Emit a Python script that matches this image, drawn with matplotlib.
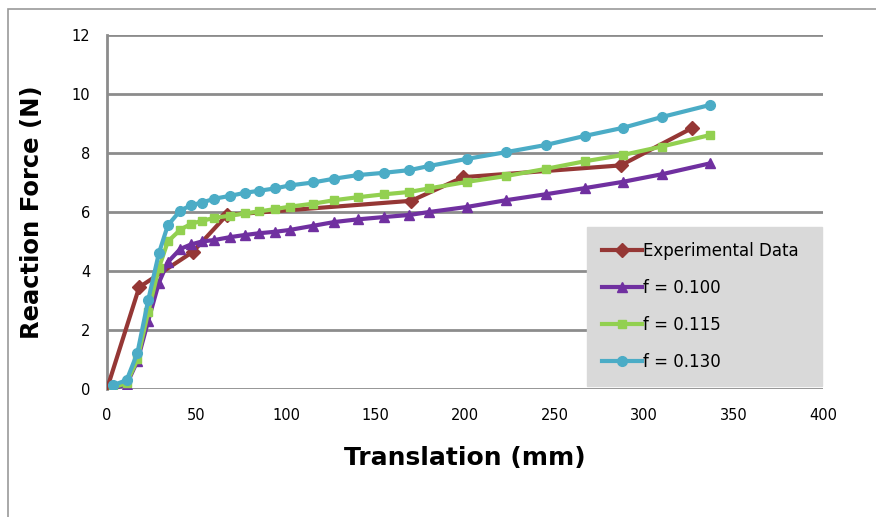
import matplotlib.pyplot as plt
from matplotlib.patches import Rectangle

# measured curve
exp_x = [0, 18, 48, 67, 170, 199, 287, 327]
exp_y = [0, 3.45, 4.65, 5.9, 6.38, 7.18, 7.58, 8.85]

# simulated curves share the same translation steps
sim_x = [3.5, 11, 17, 23, 29, 34, 41, 47, 53, 60, 69, 77, 85, 94, 102,
         115, 127, 140, 155, 169, 180, 201, 223, 245, 267, 288, 310, 337]
f100 = [0.02, 0.15, 0.95, 2.3, 3.6, 4.3, 4.75, 4.9, 5.0, 5.05, 5.15, 5.22,
        5.28, 5.33, 5.39, 5.53, 5.66, 5.75, 5.83, 5.9, 6.0, 6.17, 6.4,
        6.6, 6.81, 7.02, 7.28, 7.65]
f115 = [0.05, 0.2, 1.0, 2.6, 4.1, 5.0, 5.4, 5.6, 5.7, 5.8, 5.88, 5.95,
        6.02, 6.1, 6.18, 6.28, 6.4, 6.5, 6.6, 6.68, 6.8, 7.02, 7.22,
        7.46, 7.72, 7.93, 8.22, 8.61]
f130 = [0.13, 0.3, 1.22, 3.0, 4.6, 5.55, 6.05, 6.23, 6.32, 6.45, 6.55,
        6.65, 6.72, 6.8, 6.9, 7.0, 7.13, 7.25, 7.33, 7.42, 7.56, 7.8,
        8.03, 8.27, 8.58, 8.85, 9.22, 9.63]

xticks = [0, 50, 100, 150, 200, 250, 300, 350, 400]
yticks = [0, 2, 4, 6, 8, 10, 12]

fig = plt.figure(figsize=(8.76, 5.17), dpi=100)
ax = fig.add_axes([0.1221, 0.2476, 0.8174, 0.6847])

# chart area border (top and left edges)
fig.patches.append(Rectangle((0.009, -0.05), 1.2, 1.033, transform=fig.transFigure,
                             fill=False, edgecolor='#999999', linewidth=1.2))

ax.plot(exp_x, exp_y, color='#953735', lw=3, marker='D', ms=7,
        label='Experimental Data', zorder=3)
ax.plot(sim_x, f100, color='#7030a0', lw=3, marker='^', ms=7,
        label='f = 0.100', zorder=3)
ax.plot(sim_x, f115, color='#92d050', lw=3, marker='s', ms=6,
        label='f = 0.115', zorder=3)
ax.plot(sim_x, f130, color='#4bacc6', lw=3, marker='o', ms=7,
        label='f = 0.130', zorder=3)

ax.set_xlim(0, 400)
ax.set_ylim(0, 12)
ax.set_xticks(xticks)
ax.set_yticks(yticks)
ax.tick_params(length=0, labelsize=10.5, pad=14)
ax.tick_params(axis='y', pad=12)
ax.grid(axis='y', color='#8c8c8c', linewidth=2)
ax.set_axisbelow(True)
for s in ['top', 'right', 'bottom']:
    ax.spines[s].set_visible(False)
ax.spines['left'].set_color('#8c8c8c')
ax.spines['left'].set_linewidth(2)

ax.set_ylabel('Reaction Force (N)', fontsize=17.5, fontweight='bold',
              family='DejaVu Sans', labelpad=20)
ax.set_xlabel('Translation (mm)', fontsize=18, fontweight='bold',
              family='DejaVu Sans', labelpad=16)

leg = ax.legend(loc='lower left', bbox_to_anchor=(0.670, 0.008, 0.329, 0.441),
                mode='expand', borderaxespad=0, fontsize=12, frameon=True,
                fancybox=False, facecolor='#d9d9d9', edgecolor='#d9d9d9',
                framealpha=1, labelspacing=1.15, handlelength=2.4,
                handletextpad=0.1, borderpad=0.9)

fig.savefig('out.png', dpi=100)
